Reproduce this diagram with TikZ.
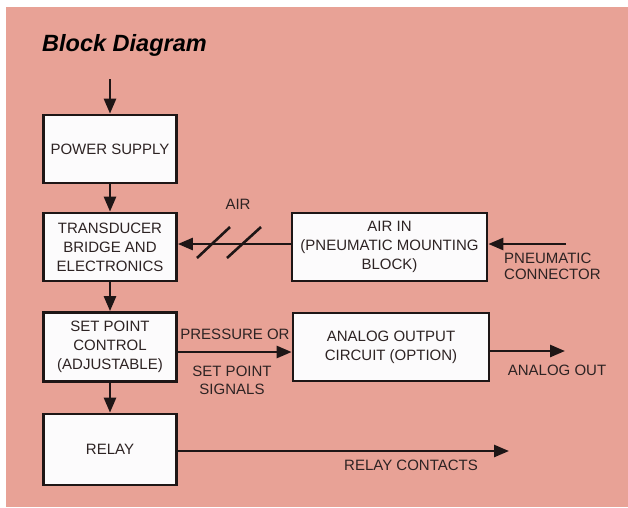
\documentclass[tikz,border=0pt]{standalone}
\usepackage{fontspec}
\setmainfont{Liberation Sans}
\usetikzlibrary{arrows.meta}
\definecolor{bgpink}{RGB}{232,162,150}
\definecolor{boxfill}{RGB}{252,251,252}
\definecolor{ink}{RGB}{30,22,22}
\definecolor{txt}{RGB}{45,35,35}
\begin{document}
\begin{tikzpicture}[x=1pt,y=-1pt,
  blk/.style={draw=ink, line width=2.7pt, fill=boxfill, minimum width=133pt, minimum height=68pt, inner sep=0pt, align=center, font=\fontsize{15}{19}\selectfont, text=txt},
  wblk/.style={blk, minimum width=195pt},
  lbl/.style={font=\fontsize{15}{18}\selectfont, text=txt, inner sep=0pt, align=center},
  conn/.style={draw=ink, line width=2.6pt, -{Triangle[length=15pt,width=12pt]}},
  slash/.style={draw=ink, line width=2.6pt}]
\useasboundingbox (0,0) rectangle (628,507);
\fill[white] (0,0) rectangle (628,507);
\fill[bgpink] (6,7) rectangle (628,507);
\node[anchor=base west, font=\fontsize{23.5}{26}\selectfont\bfseries\itshape, text=black, inner sep=0pt] (title) at (42,51) {Block Diagram};
% boxes
\node[blk] (ps) at (110,149) {POWER SUPPLY};
\node[blk] (td) at (110,247) {TRANSDUCER\\BRIDGE AND\\ELECTRONICS};
\node[wblk] (air) at (389.5,247) {AIR IN\\(PNEUMATIC MOUNTING\\BLOCK)};
\node[blk, minimum height=69pt] (sp) at (110,347) {SET POINT\\CONTROL\\(ADJUSTABLE)};
\node[wblk, minimum width=196pt] (ao) at (391,347) {ANALOG OUTPUT\\CIRCUIT (OPTION)};
\node[blk, minimum height=71pt] (rl) at (110,449.5) {RELAY};
% free ends
\coordinate (top) at (110,79);
\coordinate (pneu) at (566,244);
\coordinate (press) at (0,352);
\coordinate (aout) at (565,351);
\coordinate (rc) at (509,451);
% connectors
\draw[conn] (top) -- (ps.north);
\draw[conn] (ps.south) -- (td.north);
\draw[conn] (td.south) -- (sp.north);
\draw[conn] (sp.south) -- (rl.north);
\draw[conn] (pneu) -- (air.east |- pneu);
\draw[conn] (air.west |- pneu) -- (td.east |- pneu);
\draw[conn] (sp.east |- press) -- (ao.west |- press);
\draw[conn] (ao.east |- aout) -- (aout);
\draw[conn] (rl.east |- rc) -- (rc);
% slashes on air line
\draw[slash] (197,258) -- (230,227);
\draw[slash] (227,258) -- (261,227);
% labels
\node[lbl] (lair) at (238,204) {AIR};
\node[lbl, anchor=north west, align=left, font=\fontsize{15}{16}\selectfont] (lpn) at (504,253) {PNEUMATIC\\CONNECTOR};
\node[lbl] (lpr) at (235,334) {PRESSURE OR};
\node[lbl] (lsp) at (232,380) {SET POINT\\SIGNALS};
\node[lbl] (lao) at (557,370) {ANALOG OUT};
\node[lbl] (lrc) at (411,465) {RELAY CONTACTS};
\end{tikzpicture}
\end{document}
